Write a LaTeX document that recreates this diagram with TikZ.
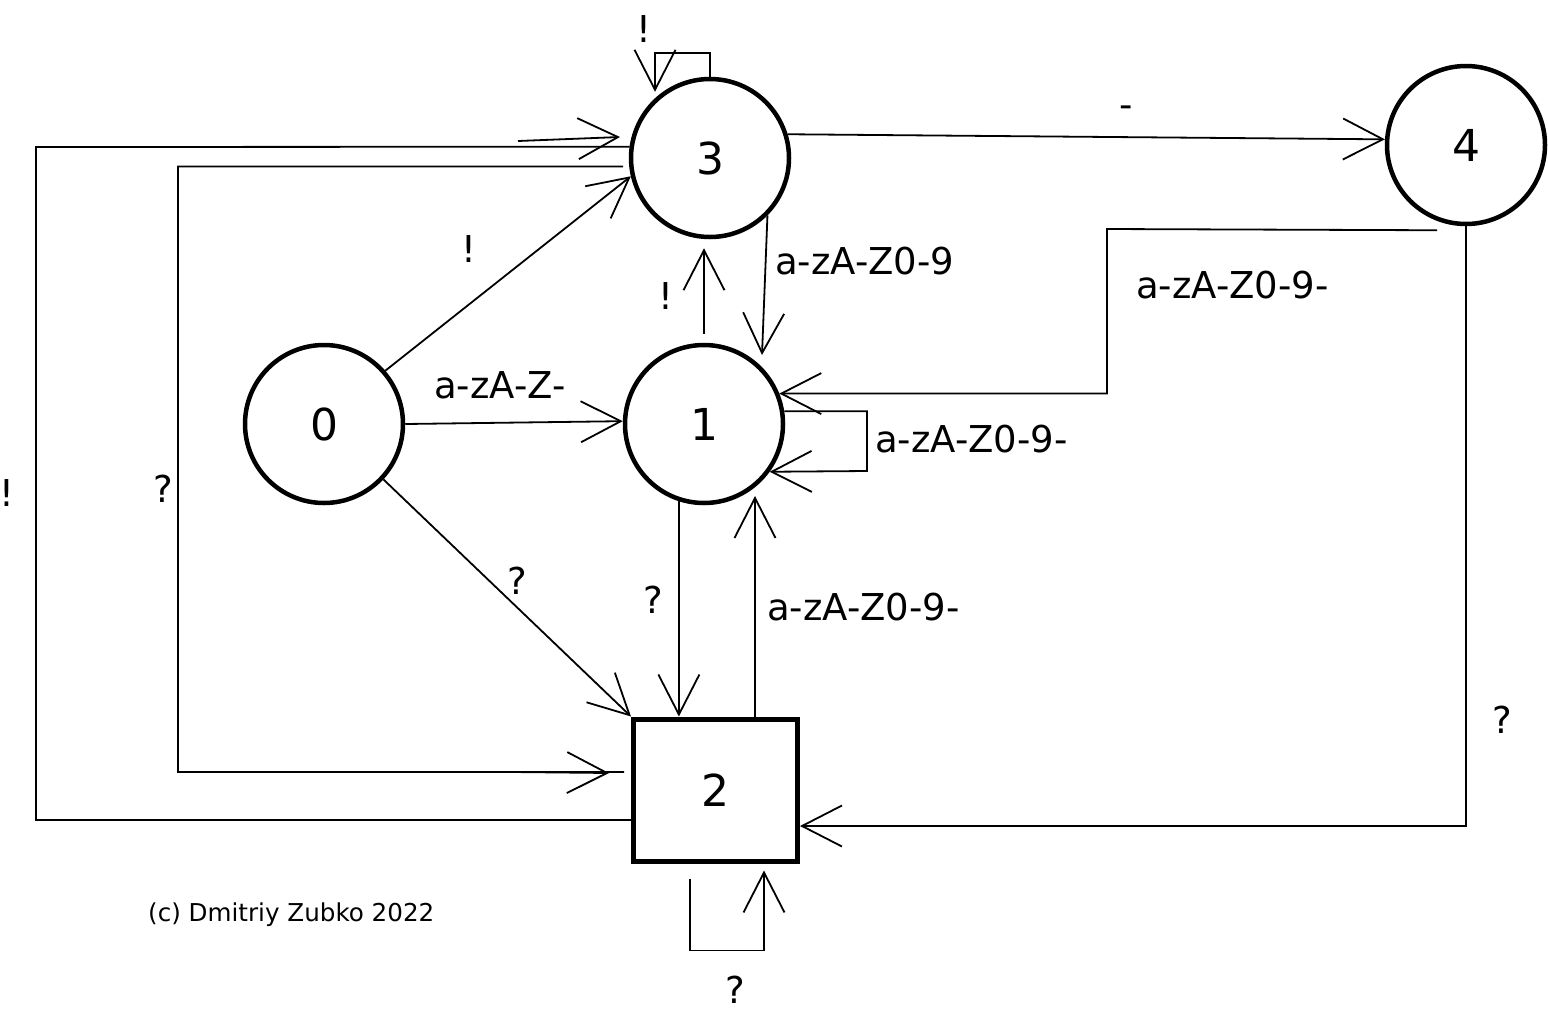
\documentclass[tikz,border=0pt]{standalone}
\usepackage{fontspec}
\setmainfont{DejaVu Sans}
\usetikzlibrary{arrows.meta,calc}
\begin{document}
\begin{tikzpicture}[x=1pt,y=-1pt,
  state/.style={circle,draw,line width=4.5pt,minimum size=158pt,inner sep=0pt,
    font=\fontsize{44}{50}\selectfont},
  final/.style={rectangle,draw,line width=5pt,minimum width=164pt,minimum height=142pt,
    inner sep=0pt,font=\fontsize{44}{50}\selectfont},
  edge/.style={line width=1.8pt},
  arr/.style={edge,-{Straight Barb[length=40pt,width=41pt]}},
  lbl/.style={inner sep=0pt,font=\fontsize{37}{44}\selectfont},
  note/.style={inner sep=0pt,font=\fontsize{24.6}{29}\selectfont}]

% canvas
\fill[white] (0,0) rectangle (1548,1013);
\useasboundingbox (0,0) rectangle (1548,1013);

% states
\node[state] (s0) at (324,424) {0};
\node[state] (s1) at (704,424) {1};
\node[state] (s3) at (710,158) {3};
\node[state] (s4) at (1466,145) {4};
\node[final] (s2) at (715.5,790) {2};

% free ends of some transitions
\coordinate (t21) at (755,496);
\coordinate (t31) at (762,355);
\coordinate (h23a) at (518,141);
\coordinate (h23b) at (620,137);
\coordinate (h32a) at (513,772);
\coordinate (h32b) at (609,773);

% transitions between states
\draw[arr] (s0.41) -- (s3.193);
\draw[arr] (s0.0) -- (s1.178);
\draw[arr] (s0.-43) -- (s2.north west);
\draw[arr] (s1.252) -- (s1.252 |- s2.north);
\draw[arr] (t21 |- s2.north) -- (t21);
\draw[arr] ($(s1.north)+(0,-9)$) -- ($(s1.north |- s3.south)+(0,9)$);
\draw[arr] (s3.-45) -- (t31);
\draw[arr] (s3.17) -- (s4.176);
\draw[arr] ($(s4.south)+(-29,4)$) -- (1107,229) |- (s1.22);
\draw[arr] (s4.south) |- ($(s2.east)+(0,36)$);

% self loops
\draw[arr] (s1.9) -| (867,471) -- (s1.-36);
\draw[arr] ($(s2.south)+(-25.5,15)$) -- ++(0,72) -| ($(s2.south)+(48.5,7)$);
\draw[arr] (s3.north) -- ++(0,-24) -| ($(s3.north)+(-55,15)$);

% long routes round the left side
\draw[edge] ($(s2.west)+(0,30)$) -- (36,820) -- (36,147) -- (s3.172);
\draw[arr] (h23a) -- (h23b);
\draw[edge] ($(s3.186)+(-6,0)$) -- (178,166.5) -- (178,772) -- ($(s2.west)+(-7,-18)$);
\draw[arr] (h32a) -- (h32b);

% transition labels
\node[lbl,anchor=base] (l33) at (644,42) {!};
\node[lbl,anchor=base] (l34) at (1126,117) {-};
\node[lbl,anchor=base] (l03) at (469,262) {!};
\node[lbl,anchor=base west] (l31) at (775,274) {a-zA-Z0-9};
\node[lbl,anchor=base] (l13) at (666,309) {!};
\node[lbl,anchor=base west] (l41) at (1136,298) {a-zA-Z0-9-};
\node[lbl,anchor=base west] (l01) at (434,398) {a-zA-Z-};
\node[lbl,anchor=base west] (l11) at (875,452) {a-zA-Z0-9-};
\node[lbl,anchor=base] (l23) at (7,506) {!};
\node[lbl,anchor=base] (l32) at (163,502) {?};
\node[lbl,anchor=base] (l02) at (517,594) {?};
\node[lbl,anchor=base] (l12) at (653,613) {?};
\node[lbl,anchor=base west] (l21) at (767,620) {a-zA-Z0-9-};
\node[lbl,anchor=base] (l42) at (1502,733) {?};
\node[lbl,anchor=base] (l22) at (735,1003) {?};

% author
\node[note,anchor=base west] (copy) at (148,921) {(c) Dmitriy Zubko 2022};
\end{tikzpicture}
\end{document}
